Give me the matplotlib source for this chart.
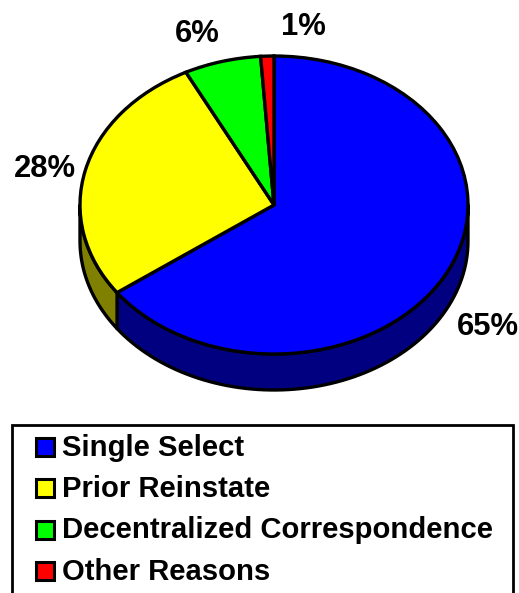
import numpy as np
import matplotlib
matplotlib.use("Agg")
import matplotlib.pyplot as plt
from matplotlib.patches import Rectangle

plt.rcParams['font.family'] = ['Liberation Sans', 'DejaVu Sans']

categories = ["Single Select", "Prior Reinstate", "Decentralized Correspondence", "Other Reasons"]
values = [65.0, 27.5, 6.4, 1.1]
pct_labels = ["65%", "28%", "6%", "1%"]
colors = ["#0000ff", "#ffff00", "#00ff00", "#ff0000"]
side_colors = ["#000080", "#808000", "#008000", "#800000"]

W, H = 519, 593
fig = plt.figure(figsize=(W / 100, H / 100), dpi=100)

# Pie axes: one unit is the radius, squashed to look tilted
cx, cy, rx, ry = 274, 205, 194, 149
depth = 36 / ry
ax = fig.add_axes([0, 0, 1, 1])

# Side wall of the pie, only the lower half of the rim shows
fracs = np.array(values) / sum(values)
ends = 90 - 360 * np.cumsum(fracs)
starts = np.concatenate([[90], ends[:-1]])
for start, end, col in zip(starts, ends, side_colors):
    # wrap so the arc is compared with the visible -180..0 range
    a0, a1 = min(start, 0), max(end, -180)
    if a0 <= a1:
        continue
    t = np.radians(np.linspace(a0, a1, 80))
    xs = np.concatenate([np.cos(t), np.cos(t[::-1])])
    ys = np.concatenate([np.sin(t), np.sin(t[::-1]) - depth])
    ax.fill(xs, ys, facecolor=col, edgecolor="black", linewidth=2.4, joinstyle="round")

ax.pie(values, colors=colors, startangle=90, counterclock=False, radius=1,
       wedgeprops=dict(edgecolor="black", linewidth=2.4))
ax.set_aspect("auto")
ax.set_xlim(-cx / rx, (W - cx) / rx)
ax.set_ylim((cy - H) / ry, cy / ry)
ax.axis("off")

# Overlay in pixel coordinates for labels and legend
ov = fig.add_axes([0, 0, 1, 1], facecolor="none")
ov.set_xlim(0, W)
ov.set_ylim(H, 0)
ov.axis("off")

label_pos = [(487.5, 335), (45, 177), (197.5, 42), (303.5, 35)]
for txt, (x, y) in zip(pct_labels, label_pos):
    ov.text(x, y, txt, fontsize=22.3, fontweight="bold", ha="center", va="baseline")

# Legend box runs off the bottom of the image
ov.add_patch(Rectangle((12, 424.5), 501, 200, facecolor="white", edgecolor="black", linewidth=2))
swatch_y = [446.5, 487.5, 529.5, 570.5]
text_y = [456, 497, 538, 580]
for name, col, y, ty in zip(categories, colors, swatch_y, text_y):
    ov.add_patch(Rectangle((35.5, y - 9), 18, 18, facecolor=col, edgecolor="black", linewidth=2.2))
    ov.text(62, ty, name, fontsize=21.1, fontweight="bold", ha="left", va="baseline")

fig.savefig("out.png", dpi=100)
